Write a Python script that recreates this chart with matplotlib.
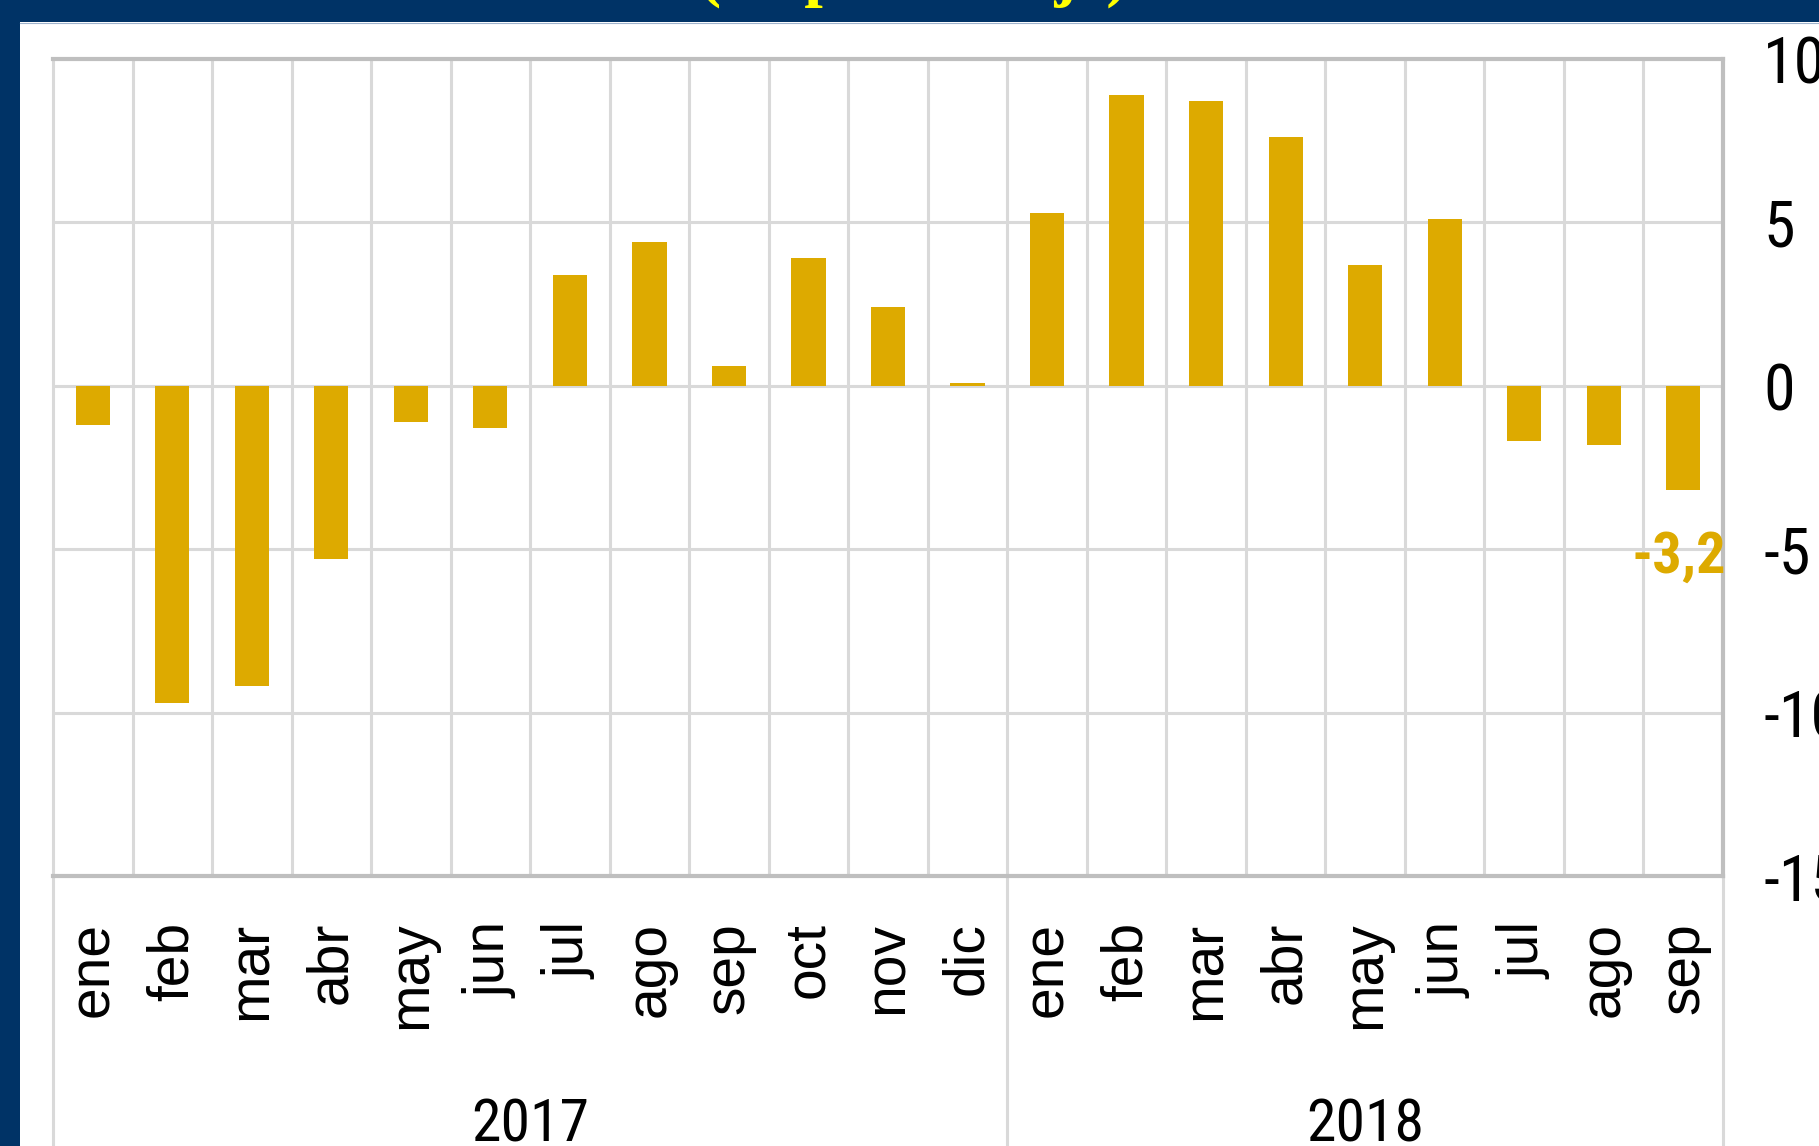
import matplotlib
matplotlib.use("Agg")
import matplotlib.pyplot as plt
from matplotlib import font_manager
from matplotlib.font_manager import FontProperties
from matplotlib.patches import Rectangle
import matplotlib.transforms as mtransforms

# ---- data ----
months = ["ene", "feb", "mar", "abr", "may", "jun", "jul", "ago", "sep", "oct", "nov", "dic",
          "ene", "feb", "mar", "abr", "may", "jun", "jul", "ago", "sep"]
values = [-1.2, -9.7, -9.2, -5.3, -1.1, -1.3, 3.4, 4.4, 0.6, 3.9, 2.4, 0.1,
          5.3, 8.9, 8.7, 7.6, 3.7, 5.1, -1.7, -1.8, -3.2]
years = ["2017", "2018"]
year_counts = [12, 9]
yticks = [-15, -10, -5, 0, 5, 10]
title = "(en porcentaje)"
last_label = "-3,2"

# ---- fonts: prefer a narrow/condensed sans if one is installed ----
entries = font_manager.fontManager.ttflist
names = {f.name for f in entries}
narrow_fp = None
for nm in ["Liberation Sans Narrow", "Arial Narrow", "Roboto Condensed",
           "Open Sans Condensed", "DejaVu Sans Condensed"]:
    if nm in names:
        narrow_fp = dict(family=nm)
        break
if narrow_fp is None:
    for fam in ["DejaVu Sans", "Open Sans", "Roboto", "Noto Sans", "Inter"]:
        if any(f.name == fam and str(f.stretch) in ("condensed", "semi-condensed", "extra-condensed", "500", "400", "300")
               and str(f.stretch) not in ("normal",) for f in entries):
            narrow_fp = dict(family=fam, stretch="condensed")
            break
if narrow_fp is None:
    narrow_fp = dict(family="Liberation Sans")
regular = "Liberation Sans"
serif = "Liberation Serif"

BAR = "#DDAA00"
NAVY = "#003366"
GRID = "#D9D9D9"
EDGE = "#BFBFBF"

W, H = 1819, 1146
fig = plt.figure(figsize=(W / 100, H / 100), dpi=100)
fig.patch.set_facecolor("white")

# navy frame (top and left)
fig.patches.append(Rectangle((0, 1 - 22 / H), 1, 22 / H, transform=fig.transFigure,
                             facecolor=NAVY, edgecolor="none", zorder=0))
fig.patches.append(Rectangle((0, 0), 20 / W, 1, transform=fig.transFigure,
                             facecolor=NAVY, edgecolor="none", zorder=0))
fig.lines.append(plt.Line2D([20 / W, 1], [1 - 22.5 / H, 1 - 22.5 / H], transform=fig.transFigure,
                            color="#9FB3CC", lw=0.8))

# title (only its lower part is visible)
fig.text(914 / W, 1 + 6 / H, title, ha="center", va="baseline", fontsize=48,
         fontweight="bold", color="#FFFF00", family=serif)

left, right, top, bottom = 53, 1723, 59, 876
ax = fig.add_axes([left / W, 1 - bottom / H, (right - left) / W, (bottom - top) / H])

x = list(range(len(values)))
ax.bar(x, values, width=0.43, color=BAR, zorder=3)

ax.set_xlim(-0.5, len(values) - 0.5)
ax.set_ylim(min(yticks), max(yticks))

# gridlines
for yv in yticks[1:-1]:
    ax.axhline(yv, color=GRID, lw=2.2, zorder=1)
for k in range(1, len(values)):
    ax.axvline(k - 0.5, color=GRID, lw=2.2, zorder=1)

for side in ["top", "bottom", "right"]:
    ax.spines[side].set_color(EDGE)
    ax.spines[side].set_linewidth(3)
ax.spines["left"].set_color(GRID)
ax.spines["left"].set_linewidth(2.2)

# y axis on the right
ax.yaxis.tick_right()
ax.set_yticks(yticks)
ax.set_yticklabels([str(v) for v in yticks], fontproperties=FontProperties(size=46, **narrow_fp))
ax.tick_params(axis="y", length=0, pad=29)

# month labels
ax.set_xticks(x)
ax.set_xticklabels(months, rotation=90, family=regular, fontsize=41)
ax.tick_params(axis="x", length=0, pad=33)

# group separators below axis
trans = mtransforms.blended_transform_factory(ax.transData, ax.transAxes)
bounds = [-0.5]
acc = -0.5
for c in year_counts:
    acc += c
    bounds.append(acc)
for b in bounds:
    ax.plot([b, b], [0, -0.4], transform=trans, color=GRID, lw=2.2, clip_on=False, zorder=1)

# year labels
start = -0.5
for yr, c in zip(years, year_counts):
    ax.text(start + c / 2, -(1096 - bottom) / (bottom - top), yr, transform=trans,
            ha="center", va="top", fontproperties=FontProperties(size=43, **narrow_fp),
            color="black")
    start += c

# data label for last value
ax.annotate(last_label, xy=(x[-1], values[-1]), xytext=(-3, -28), textcoords="offset points",
            ha="center", va="top", color=BAR, zorder=4,
            fontproperties=FontProperties(size=42, weight="bold", **narrow_fp))

fig.savefig("out.png", dpi=100, facecolor="white")
